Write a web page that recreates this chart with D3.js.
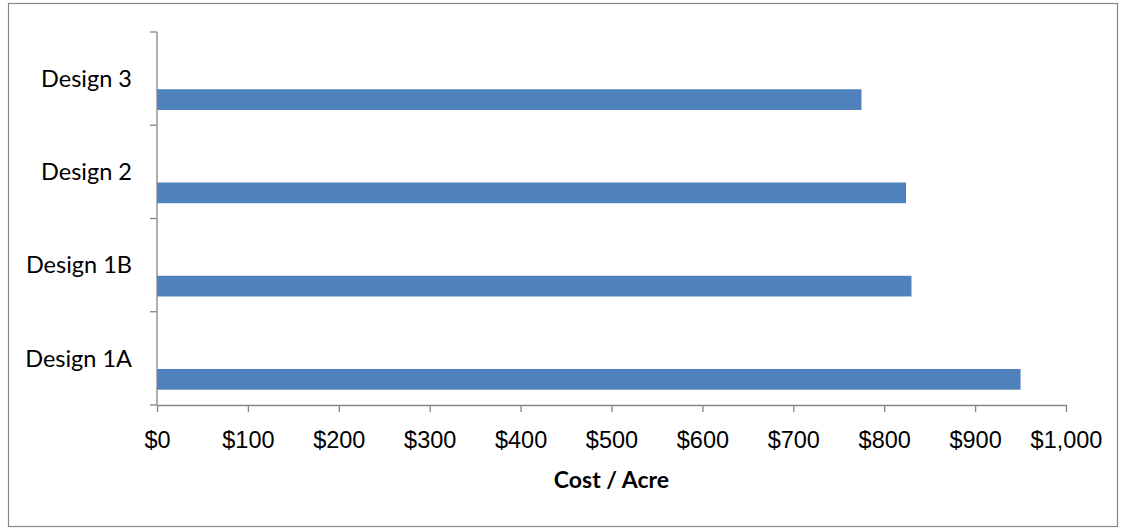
<!DOCTYPE html>
<html>
<head>
<meta charset="utf-8">
<script src="https://cdn.jsdelivr.net/npm/d3@7"></script>
<style>
  body { margin: 0; background: #fff; }
  svg { display: block; font-family: Lato, "Open Sans", sans-serif; }
  .axis path, .axis line { stroke: #868686; stroke-width: 1.3; }
</style>
</head>
<body>
<svg id="chart" width="1126" height="529"></svg>
<script>
// categories top to bottom
const designs = ['Design 3', 'Design 2', 'Design 1B', 'Design 1A'];
const costPerAcre = [775, 824, 830, 950];
const xTicks = [0, 100, 200, 300, 400, 500, 600, 700, 800, 900, 1000];
const xTitle = 'Cost / Acre';

const svg = d3.select('#chart');

// chart frame
svg.append('rect')
  .attr('x', 8.5).attr('y', 3.5)
  .attr('width', 1109).attr('height', 523)
  .attr('fill', 'none')
  .attr('stroke', '#868686')
  .attr('stroke-width', 1.2);

const plot = { left: 157, right: 1066, top: 32, bottom: 405 };

const x = d3.scaleLinear().domain([0, 1000]).range([plot.left, plot.right]);
const y = d3.scaleBand().domain(designs).range([plot.top, plot.bottom]);

// bars sit in lower part of each band (empty second series in the original)
const bw = y.bandwidth();
svg.append('g').selectAll('rect')
  .data(designs.map((d, i) => ({ name: d, v: costPerAcre[i] })))
  .join('rect')
  .attr('x', x(0))
  .attr('y', d => y(d.name) + bw * 0.614)
  .attr('width', d => x(d.v) - x(0))
  .attr('height', bw * 0.222)
  .attr('fill', '#4F81BD');

// x axis
const fmt = d3.format('$,');
const xAxis = svg.append('g')
  .attr('class', 'axis')
  .attr('transform', `translate(0,${plot.bottom})`)
  .call(d3.axisBottom(x).tickValues(xTicks).tickFormat(fmt).tickSizeInner(7).tickSizeOuter(0));
xAxis.selectAll('text')
  .attr('font-size', 23.5)
  .attr('fill', '#000')
  .attr('dy', null)
  .attr('y', 43);

// y axis: ticks at band boundaries, labels at band centres
const yAxisG = svg.append('g').attr('class', 'axis');
yAxisG.append('line')
  .attr('x1', plot.left).attr('x2', plot.left)
  .attr('y1', plot.top).attr('y2', plot.bottom);
const bounds = designs.map(d => y(d)).concat([plot.bottom]);
yAxisG.selectAll('line.tick')
  .data(bounds)
  .join('line')
  .attr('class', 'tick')
  .attr('x1', plot.left - 7).attr('x2', plot.left)
  .attr('y1', d => d).attr('y2', d => d);

svg.append('g').selectAll('text')
  .data(designs)
  .join('text')
  .attr('x', 132)
  .attr('y', d => y(d) + bw / 2)
  .attr('dy', '0.35em')
  .attr('text-anchor', 'end')
  .attr('font-size', 23.5)
  .attr('fill', '#000')
  .text(d => d);

// axis title
svg.append('text')
  .attr('x', (plot.left + plot.right) / 2)
  .attr('y', 488)
  .attr('text-anchor', 'middle')
  .attr('font-size', 23)
  .attr('font-weight', 'bold')
  .attr('fill', '#000')
  .text(xTitle);
</script>
</body>
</html>
